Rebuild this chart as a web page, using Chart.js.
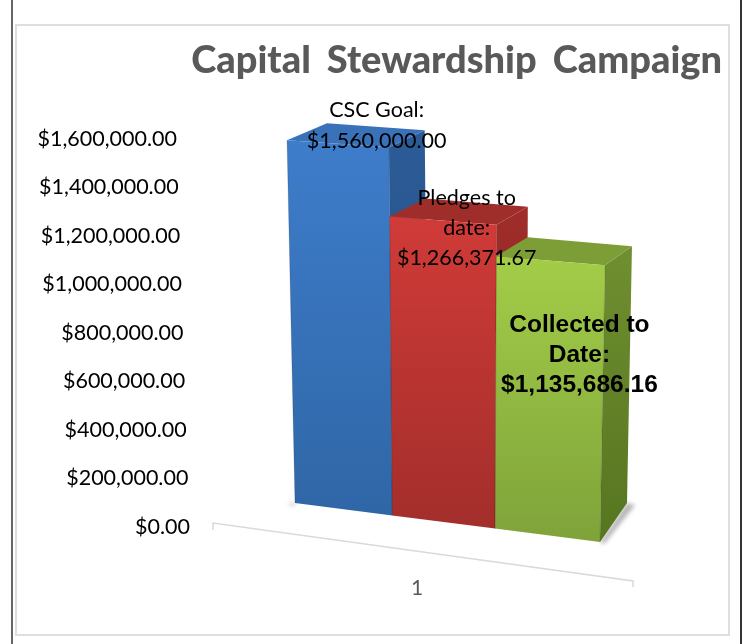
<!DOCTYPE html>
<html>
<head>
<meta charset="utf-8">
<title>Capital Stewardship Campaign</title>
<script src="https://cdn.jsdelivr.net/npm/chart.js@4"></script>
<style>
    body { margin: 0; background: #fff; }
    .page { position: relative; width: 748px; height: 644px; overflow: hidden; }
    .page canvas { position: absolute; left: 0; top: 0; }
    .rule { position: absolute; top: 0; bottom: 0; }
    .rule-left { left: 11px; width: 2px; background: #666; }
    .rule-right { left: 740px; width: 2px; background: #333; }
    .box { position: absolute; left: 15px; top: 24px; width: 711px; height: 608px; border: 2px solid #dedede; }
</style>
</head>
<body>
<div class="page">
    <div class="rule rule-left"></div>
    <div class="rule rule-right"></div>
    <div class="box"></div>
    <canvas id="myChart" width="748" height="644"></canvas>
</div>
<script>
const categories = ['1'];
const seriesNames = ['CSC Goal', 'Pledges to date', 'Collected to Date'];
const seriesValues = [[1560000], [1266371.67], [1135686.16]];
const labelLines = [['CSC Goal:'], ['Pledges to', 'date:'], ['Collected to', 'Date:']];
const tickStep = 200000;
const tickMax = 1600000;

// front, side and top shades of each prism
const faceColors = [
    { front: ['#3e7dcb', '#2f66a6'], side: ['#2c5c98', '#214a7c'], top: '#3a72ba' },
    { front: ['#d03b38', '#a32e2b'], side: ['#a02d2a', '#7f2321'], top: '#9f2e2b' },
    { front: ['#a3cd48', '#7fa33a'], side: ['#6f8f30', '#567520'], top: '#7d9e36' }
];

// corners of the sloped front plane: [left, right] at the zero line and at the axis maximum
const planeBottom = [[295, 503], [600, 542]];
const planeTop = [[286.8, 131], [607, 152]];

// where each value label sits relative to the top of its bar
const labelShift = [[40, -3], [24, 37], [29, 125]];
const labelFonts = [
    { family: 'Lato', size: 21.5, weight: 'normal', lineHeight: 31 },
    { family: 'Lato', size: 21.5, weight: 'normal', lineHeight: 30 },
    { family: 'Liberation Sans', size: 24.5, weight: 'bold', lineHeight: 30 }
];

const lerp = (a, b, t) => a + (b - a) * t;

function project(u, v) {
    const s = Math.pow(u, 1.04);
    const bx = lerp(planeBottom[0][0], planeBottom[1][0], s);
    const by = lerp(planeBottom[0][1], planeBottom[1][1], s);
    const tx = lerp(planeTop[0][0], planeTop[1][0], s);
    const ty = lerp(planeTop[0][1], planeTop[1][1], s);
    return [lerp(bx, tx, v), lerp(by, ty, v)];
}

function pushBack(p, u, v) {
    return [p[0] + 40 - 13 * u, p[1] - 17 - 22 * (1 - v) * (1 - v)];
}

function fillQuad(ctx, pts, fill) {
    ctx.beginPath();
    pts.forEach((p, i) => i ? ctx.lineTo(p[0], p[1]) : ctx.moveTo(p[0], p[1]));
    ctx.closePath();
    ctx.fillStyle = fill;
    ctx.fill();
}

function vertical(ctx, y0, y1, stops) {
    const g = ctx.createLinearGradient(0, y0, 0, y1);
    g.addColorStop(0, stops[0]);
    g.addColorStop(1, stops[1]);
    return g;
}

// unit position of a bar element inside the plot
function barBox(chart, el) {
    const area = chart.chartArea;
    const span = area.right - area.left;
    return {
        u0: (el.x - el.width / 2 - area.left) / span,
        u1: (el.x + el.width / 2 - area.left) / span,
        v: (el.base - el.y) / (area.bottom - area.top)
    };
}

function drawFloor(ctx) {
    const fr = project(1, 0);
    const br = pushBack(fr, 1, 0);
    const bl = project(0, 0);
    ctx.save();
    ctx.filter = 'blur(2px)';
    fillQuad(ctx, [fr, br, [br[0] + 8, br[1] + 2], [fr[0] + 4, fr[1] + 2]], '#b4b4b4');
    fillQuad(ctx, [bl, [bl[0] - 8, bl[1] + 1], [bl[0], bl[1] + 3]], '#b4b4b4');
    ctx.restore();
}

function drawPrism(ctx, box, colors) {
    const a = project(box.u0, box.v);
    const b = project(box.u1, box.v);
    const c = project(box.u1, 0);
    const d = project(box.u0, 0);
    const backA = pushBack(a, box.u0, box.v);
    const backB = pushBack(b, box.u1, box.v);
    const backC = pushBack(c, box.u1, 0);
    fillQuad(ctx, [b, backB, backC, c], vertical(ctx, backB[1], c[1], colors.side));
    fillQuad(ctx, [a, backA, backB, b], colors.top);
    fillQuad(ctx, [a, b, c, d], vertical(ctx, a[1], c[1], colors.front));
    // darker seam down the sides of the front face
    ctx.save();
    ctx.strokeStyle = 'rgba(0,0,0,0.14)';
    ctx.lineWidth = 1;
    ctx.beginPath();
    ctx.moveTo(a[0], a[1]);
    ctx.lineTo(d[0], d[1]);
    ctx.moveTo(b[0], b[1]);
    ctx.lineTo(c[0], c[1]);
    ctx.stroke();
    ctx.restore();
}

function moneyLabel(value) {
    return '$' + value.toLocaleString('en-US', { minimumFractionDigits: 2, maximumFractionDigits: 2 });
}

const prismPlugin = {
    id: 'prisms',
    beforeDraw(chart) {
        chart.ctx.wordSpacing = '7px';
    },
    afterLayout(chart) {
        // value labels lean with the axis
        const y = chart.scales.y;
        y.getLabelItems().forEach((item, i) => {
            const t = y.ticks[i].value / tickMax;
            item.options.translation[0] -= 13 * t;
        });
    },
    beforeDatasetsDraw(chart) {
        const ctx = chart.ctx;
        ctx.wordSpacing = '0px';
        drawFloor(ctx);
        chart.data.datasets.forEach((ds, i) => {
            const el = chart.getDatasetMeta(i).data[0];
            drawPrism(ctx, barBox(chart, el), faceColors[i]);
        });
    },
    beforeDatasetDraw() {
        return false;
    },
    afterDatasetsDraw(chart) {
        const ctx = chart.ctx;
        chart.data.datasets.forEach((ds, i) => {
            const box = barBox(chart, chart.getDatasetMeta(i).data[0]);
            const p = project((box.u0 + box.u1) / 2, box.v);
            const f = labelFonts[i];
            const lines = labelLines[i].concat(moneyLabel(ds.data[0]));
            ctx.save();
            ctx.font = f.weight + ' ' + f.size + 'px "' + f.family + '"';
            ctx.fillStyle = '#000';
            ctx.textAlign = 'center';
            ctx.textBaseline = 'middle';
            lines.forEach((line, n) => {
                const up = (lines.length - 1 - n) * f.lineHeight;
                ctx.fillText(line, p[0] + labelShift[i][0], p[1] + labelShift[i][1] - up);
            });
            ctx.restore();
        });
    },
    afterDraw(chart) {
        // sloped category axis with its end ticks
        const ctx = chart.ctx;
        ctx.save();
        ctx.strokeStyle = '#d9d9d9';
        ctx.lineWidth = 1.5;
        ctx.beginPath();
        ctx.moveTo(213, 530);
        ctx.lineTo(213, 523);
        ctx.lineTo(633, 581);
        ctx.lineTo(633, 587);
        ctx.stroke();
        ctx.restore();
    }
};

new Chart(document.getElementById('myChart'), {
    type: 'bar',
    data: {
        labels: categories,
        datasets: seriesNames.map((name, i) => ({
            label: name,
            data: seriesValues[i],
            backgroundColor: faceColors[i].front[0]
        }))
    },
    options: {
        responsive: false,
        animation: false,
        datasets: { bar: { barPercentage: 1, categoryPercentage: 1 } },
        plugins: {
            legend: { display: false },
            tooltip: { enabled: false },
            title: {
                display: true,
                text: 'Capital Stewardship Campaign',
                align: 'end',
                color: '#595959',
                font: { family: 'Lato', size: 38, weight: 900 },
                padding: { top: 38, bottom: 55 }
            }
        },
        layout: { padding: { top: 0, right: 26, bottom: 0, left: 0 } },
        scales: {
            x: {
                afterFit(scale) { scale.height = 117; },
                grid: { display: false },
                border: { display: false },
                ticks: {
                    padding: 41,
                    labelOffset: -39,
                    color: '#595959',
                    font: { family: 'Lato', size: 21 }
                }
            },
            y: {
                min: 0,
                max: tickMax,
                afterFit(scale) { scale.width = 190; },
                grid: { display: false, drawTicks: false },
                border: { display: false },
                ticks: {
                    stepSize: tickStep,
                    padding: 0,
                    color: '#000',
                    font: { family: 'Lato', size: 21.5 },
                    callback: (value) => moneyLabel(value)
                }
            }
        }
    },
    plugins: [prismPlugin]
});
</script>
</body>
</html>
